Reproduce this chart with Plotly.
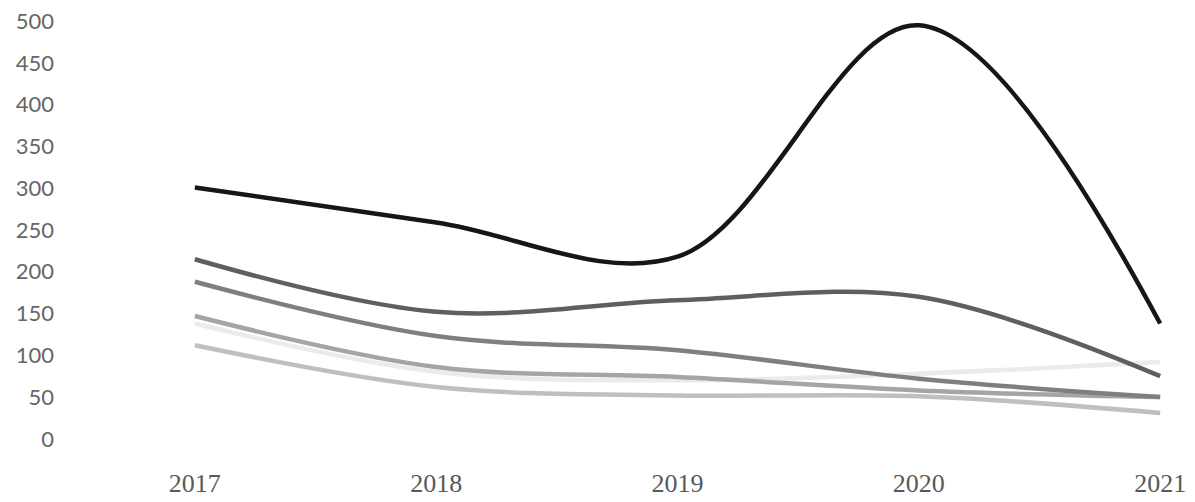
import plotly.graph_objects as go

years = [2017, 2018, 2019, 2020, 2021]
year_labels = ["2017", "2018", "2019", "2020", "2021"]

series_a = [138, 80, 70, 78, 92]     # very light
series_b = [112, 62, 52, 51, 31]     # light grey
series_c = [147, 86, 74, 58, 50]     # mid-light grey
series_d = [188, 123, 106, 72, 50]   # mid grey
series_e = [215, 152, 166, 170, 75]  # dark grey
series_f = [301, 259, 218, 495, 138] # black

series = [
    (series_a, "#ebebeb"),
    (series_b, "#bfbfbf"),
    (series_c, "#a5a5a5"),
    (series_d, "#7f7f7f"),
    (series_e, "#5f5f5f"),
    (series_f, "#161616"),
]

y_ticks = [0, 50, 100, 150, 200, 250, 300, 350, 400, 450, 500]

fig = go.Figure()
for vals, col in series:
    fig.add_trace(go.Scatter(
        x=years, y=vals, mode="lines",
        line=dict(color=col, width=4.5, shape="spline", smoothing=1.0),
        showlegend=False, hoverinfo="skip",
    ))

fig.update_layout(
    width=1195, height=502,
    margin=dict(l=190, r=30, t=17, b=59),
    paper_bgcolor="white", plot_bgcolor="white",
    xaxis=dict(
        range=[2016.98, 2021.02],
        tickvals=years, ticktext=year_labels,
        showgrid=False, zeroline=False, showline=False,
        automargin=False,
        tickfont=dict(family="Liberation Serif", size=26, color="#595959"),
        ticklabelstandoff=22,
    ),
    yaxis=dict(
        range=[-5, 505],
        tickvals=y_ticks,
        showgrid=False, zeroline=False, showline=False,
        automargin=False,
        tickfont=dict(family="Lato", size=22, color="#666666"),
        ticklabelstandoff=135,
    ),
)

# remove the default 8px page margin so the figure fills the window exactly
fig.write_html(
    "out.html",
    config={"displayModeBar": False},
    post_script="document.body.style.margin='0px';",
)
